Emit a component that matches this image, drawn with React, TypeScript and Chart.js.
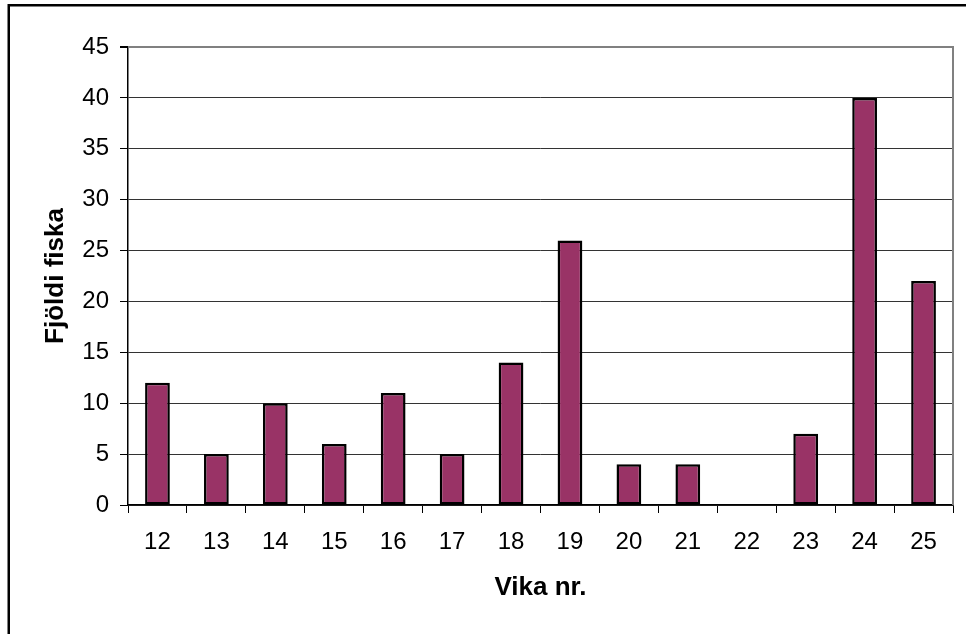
import React, { useEffect, useRef } from "react";
import { Chart, registerables } from "chart.js";

Chart.register(...registerables);

const weeks = ["12", "13", "14", "15", "16", "17", "18", "19", "20", "21", "22", "23", "24", "25"];
const fishCounts = [12, 5, 10, 6, 11, 5, 14, 26, 4, 4, 0, 7, 40, 22];
const yTicks = [0, 5, 10, 15, 20, 25, 30, 35, 40, 45];
const xTitle = "Vika nr.";
const yTitle = "Fjöldi fiska";

const FONT = "'Liberation Sans', Arial, sans-serif";

const framePlugin = {
  id: "frame",
  afterDraw(chart: any) {
    const { ctx, chartArea } = chart;
    ctx.save();
    // outer frame
    ctx.strokeStyle = "#000";
    ctx.lineWidth = 2.5;
    ctx.strokeRect(8.75, 5.25, 1000, 1000);
    // plot area top/right border
    ctx.strokeStyle = "#808080";
    ctx.lineWidth = 2;
    ctx.beginPath();
    ctx.moveTo(chartArea.left, chartArea.top);
    ctx.lineTo(chartArea.right, chartArea.top);
    ctx.lineTo(chartArea.right, chartArea.bottom);
    ctx.stroke();
    ctx.restore();
  },
};

export default function App() {
  const ref = useRef<HTMLCanvasElement | null>(null);

  useEffect(() => {
    if (!ref.current) return;
    const chart = new Chart(ref.current, {
      type: "bar",
      data: {
        labels: weeks,
        datasets: [
          {
            data: fishCounts,
            backgroundColor: "#993366",
            borderColor: "#000000",
            borderWidth: (c: any) => (c.raw === 0 ? 0 : 2.5),
            borderSkipped: false,
            barPercentage: 0.42,
            categoryPercentage: 1,
          },
        ],
      },
      options: {
        responsive: false,
        animation: false,
        devicePixelRatio: 1,
        layout: { padding: { left: 0, right: 13, top: 47, bottom: 0 } },
        plugins: {
          legend: { display: false },
          tooltip: { enabled: false },
        },
        scales: {
          x: {
            offset: true,
            grid: {
              offset: true,
              drawOnChartArea: false,
              tickLength: 8,
              tickColor: "#000",
              tickWidth: 1,
            },
            border: { color: "#000", width: 1.5 },
            ticks: {
              color: "#000",
              padding: 15,
              font: { family: FONT, size: 24 },
              maxRotation: 0,
            },
            title: {
              display: true,
              text: xTitle,
              color: "#000",
              font: { family: FONT, size: 26, weight: "bold" },
              padding: { top: 0, bottom: 31 },
            },
            afterFit: (s: any) => {
              s.height = 129;
            },
          },
          y: {
            min: 0,
            max: 45,
            afterBuildTicks: (s: any) => {
              s.ticks = yTicks.map((v) => ({ value: v }));
            },
            grid: {
              color: (c: any) => (c.tick && c.tick.value === 45 ? "#808080" : "#333333"),
              tickColor: "#000",
              tickLength: 8,
              lineWidth: (c: any) => (c.tick && c.tick.value === 45 ? 2 : 1),
            },
            border: { color: "#000", width: 1.5 },
            ticks: {
              color: "#000",
              padding: 11,
              font: { family: FONT, size: 24 },
            },
            title: {
              display: true,
              text: yTitle,
              color: "#000",
              font: { family: FONT, size: 26, weight: "bold" },
              padding: { top: 40, bottom: 0 },
            },
            afterFit: (s: any) => {
              s.width = 128;
            },
          },
        },
      },
      plugins: [framePlugin],
    } as any);
    return () => chart.destroy();
  }, []);

  return (
    <div style={{ position: "fixed", left: 0, top: 0, width: 966, height: 634, background: "#fff" }}>
      <canvas ref={ref} width={966} height={634} style={{ display: "block" }} />
    </div>
  );
}
